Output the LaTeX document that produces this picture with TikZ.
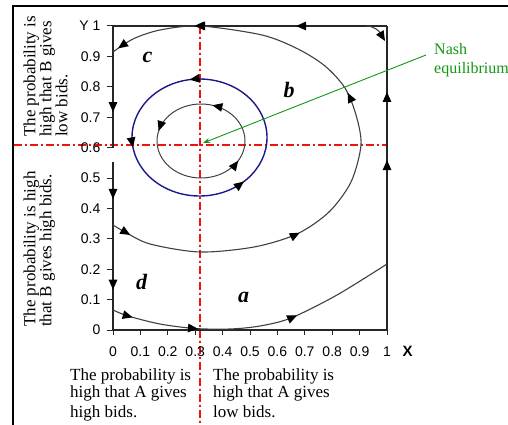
\documentclass[tikz,border=0pt]{standalone}
\usepackage{fontspec}
\setmainfont{Liberation Serif}
\newfontfamily\axisfont{Liberation Sans}
\usetikzlibrary{arrows.meta,decorations.markings}
\definecolor{flowgray}{gray}{0.25}
\definecolor{ringblue}{RGB}{25,25,140}
\definecolor{nashgreen}{RGB}{20,150,20}
\definecolor{eqred}{RGB}{235,20,20}
\tikzset{
  tipA/.tip={Triangle[length=10pt,width=8.5pt,color=black]},
  flowline/.style={draw=flowgray,line width=1.1pt},
  axisline/.style={draw=black!85,line width=1.2pt},
  arrowat/.style={postaction={decorate,decoration={markings,mark=at position #1 with {\arrow{tipA}}}}},
  eqline/.style={draw=eqred,line width=1.1pt,dash pattern=on 8pt off 3pt on 2pt off 3pt},
  ticklab/.style={font=\axisfont\fontsize{14}{14}\selectfont,inner sep=0pt},
  region/.style={font=\bfseries\itshape\fontsize{22}{22}\selectfont,inner sep=0pt,anchor=base},
  note/.style={font=\fontsize{17}{17}\selectfont,inner sep=0pt,align=left},
  rotnote/.style={font=\fontsize{17}{16}\selectfont,inner sep=0pt,align=left,rotate=90,anchor=north west},
}
\begin{document}
\begin{tikzpicture}[x=1pt,y=-1pt]
\useasboundingbox (0,0) rectangle (508,425);
% frame
\draw[line width=2pt] (13,425) -- (13,6) -- (508,6);
% equilibrium lines
\draw[eqline] (200,26) -- (200,425);
\draw[eqline] (14,145) -- (387,145);
% ticks and labels
\foreach \v/\t in {0/0,1/0.1,2/0.2,3/0.3,4/0.4,5/0.5,6/0.6,7/0.7,8/0.8,9/0.9,10/1}{
  \draw[draw=black!85,line width=1pt] ({113+27.4*\v},330) -- ({113+27.4*\v},335);
  \node[ticklab,anchor=base] (xl\v) at ({113+27.4*\v},356) {\t};
}
\foreach \v/\t in {0/0,1/0.1,2/0.2,3/0.3,4/0.4,5/0.5,6/0.6,7/0.7,8/0.8,9/0.9,10/{Y 1}}{
  \draw[draw=black!85,line width=1pt] (107,{330-30.4*\v}) -- (113,{330-30.4*\v});
  \node[ticklab,anchor=east] (yl\v) at (100.5,{330-30.4*\v}) {\t};
}
\node[font=\axisfont\bfseries\fontsize{15}{15}\selectfont,anchor=base,inner sep=0pt] (xlab) at (407.5,356.5) {X};
% box with boundary flows
\draw[axisline] (113,330) -- (387,330);
\draw[axisline,arrowat=0.559,arrowat=0.783] (387,330) -- (387,26);
\draw[axisline,arrowat=0.332,arrowat=0.70] (387,26) -- (113,26);
\draw[axisline,arrowat=0.705] (113,26) -- (113,148);
\draw[axisline,arrowat=0.22,arrowat=0.76] (113,162) -- (113,330);
\draw[flowline,-{tipA}] (366,26) .. controls (374,26) and (379,31) .. (385,41);
% trajectories
\draw[flowline,arrowat=0.032,arrowat=0.313,arrowat=0.58,arrowat=0.86,arrowat=0.99]
  plot[smooth,tension=0.5] coordinates {(113,225) (125,232) (150,244) (200,252) (254,247) (297,234) (329,212) (351,182) (361,145) (356,115) (345,88) (325,66) (298,49) (262,35) (200,26) (160,30) (133,39) (113,52)};
\draw[flowline,arrowat=0.072,arrowat=0.645]
  plot[smooth,tension=0.5] coordinates {(113,310) (128,316) (160,324) (195,328.5) (230,329) (260,326) (291,318) (337,295) (387,264)};
\coordinate (lowtail) at (188,328);
\coordinate (lowtip) at (198,328.8);
\draw[flowline,-{tipA}] (lowtail) -- (lowtip);
\draw[draw=ringblue,line width=1.4pt,arrowat=0.275,arrowat=0.525,arrowat=0.87]
  (267,137.5) arc[start angle=0,end angle=-360,x radius=67.5,y radius=58.5];
\draw[flowline,line width=1pt,arrowat=0.205,arrowat=0.46,arrowat=0.917]
  (245,141) arc[start angle=0,end angle=-360,x radius=44,y radius=37];
% region letters
\node[region] (ra) at (243.5,302) {a};
\node[region] (rb) at (289,98) {b};
\node[region] (rc) at (147.5,63) {c};
\node[region] (rd) at (141.5,289) {d};
% Nash label
\coordinate (ne) at (203,143);
\coordinate (nashfoot) at (426,55);
\node[font=\fontsize{16}{19}\selectfont,text=nashgreen,align=left,anchor=north west,inner sep=0pt] (nash) at (434,43) {Nash\\equilibrium};
\draw[nashgreen,line width=0.9pt,-{Stealth[length=7pt,width=5pt]}] (nashfoot) -- (ne);
% side notes
\node[rotnote] (noteBlow) at (23.4,137) {The probability is\\high that B gives\\low bids.};
\node[rotnote] (noteBhigh) at (23.4,327) {The probability is high\\that B gives high bids.};
\node[note,anchor=north west] (noteAhigh) at (70,368.4) {The probability is\\high that A gives\\[3pt]high bids.};
\node[note,anchor=north west] (noteAlow) at (213,368.4) {The probability is\\high that A gives\\[3pt]low bids.};
\end{tikzpicture}
\end{document}
